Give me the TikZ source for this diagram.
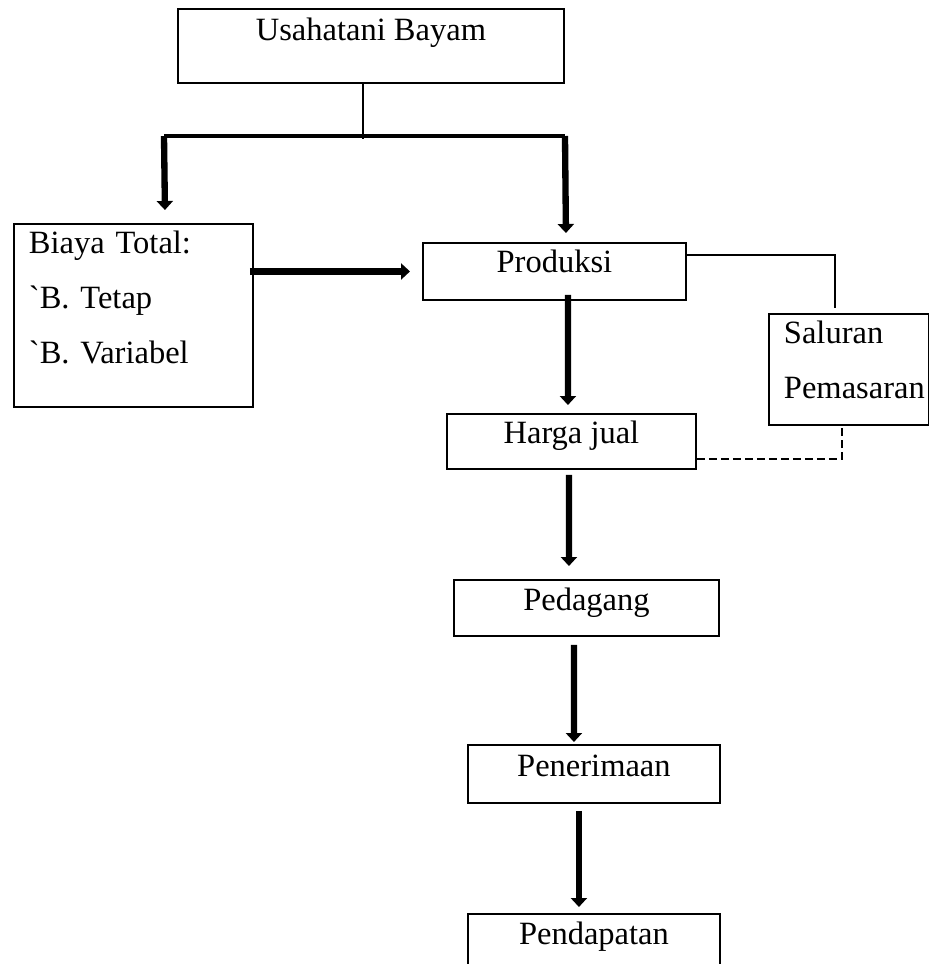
\documentclass[tikz,border=0pt]{standalone}
\usepackage{fontspec}
\newfontfamily\diafont{Liberation Serif}
\usetikzlibrary{calc,arrows.meta}

\begin{document}
\begin{tikzpicture}[x=0.02cm,y=-0.02cm,
	box/.style = {draw, line width=1.1pt, inner sep=0pt, anchor=north west, font=\diafont\fontsize{18.5}{31.3}\selectfont\frenchspacing},
	lbox/.style = {box, inner xsep=0.3cm, align=left},
	arr/.style = {line width=3.6pt, -{Triangle[length=0.18cm,width=0.32cm]}},
	bar/.style = {line width=2.2pt},
	thinline/.style = {line width=1.1pt},
	dashline/.style = {line width=1.1pt, dash pattern=on 0.16cm off 0.08cm}]
	\useasboundingbox (0,0) rectangle (929,964);
	\clip (0,0) rectangle (929,964);
	\node[box,minimum width=7.72cm,text height=0.64cm,text depth=0.84cm] at (177,8) (usaha) {Usahatani Bayam};
	\node[lbox,text width=4.18cm,text height=0.6cm,text depth=3.06cm] at (13,223) (biaya) {Biaya Total:\\`B. Tetap\\`B. Variabel};
	\node[box,minimum width=5.26cm,text height=0.6cm,text depth=0.54cm] at (422,242) (prod) {Produksi};
	\node[lbox,text width=2.6cm,text height=0.6cm,text depth=1.62cm] at (768,313) (saluran) {Saluran\\Pemasaran};
	\node[box,minimum width=4.98cm,text height=0.6cm,text depth=0.5cm] at (446,413) (harga) {Harga jual};
	\node[box,minimum width=5.3cm,text height=0.62cm,text depth=0.5cm] at (453,579) (dagang) {Pedagang};
	\node[box,minimum width=5.04cm,text height=0.64cm,text depth=0.52cm] at (467,744) (terima) {Penerimaan};
	\node[box,minimum width=5.04cm,text height=0.62cm,text depth=1.2cm] at (467,913) (dapat) {Pendapatan};
	\coordinate (fork) at (363,139);
	\coordinate (lft) at (164,136);
	\coordinate (rgt) at (565,136);
	\draw[thinline] (usaha.south -| fork) -- (fork);
	\draw[bar] (lft) -- (rgt);
	\draw[arr] (lft) -- ($(biaya.north)+(31.5,-13)$);
	\draw[arr] (rgt) -- ($(prod.north)+(11.5,-9)$);
	\draw[arr] ($(biaya.east |- prod.west)+(-4,0)$) -- ($(prod.west)+(-12,0)$);
	\draw[arr] ($(prod.south)+(13.5,-6)$) -- ($(harga.north)+(-3.5,-8)$);
	\draw[arr] ($(harga.south)+(-2.5,5)$) -- ($(dagang.north)+(-17.5,-13)$);
	\draw[arr] ($(dagang.south)+(-12.5,8)$) -- ($(terima.north)+(-20,-2)$);
	\draw[arr] ($(terima.south)+(-15,7)$) -- ($(dapat.north)+(-15,-6)$);
	\draw[thinline] ($(prod.north east)+(0,13)$) -| ($(saluran.north)+(-14,-5)$);
	\draw[dashline] ($(harga.east)+(0,17.5)$) -| ($(saluran.south)+(-7,0)$);
\end{tikzpicture}
\end{document}
